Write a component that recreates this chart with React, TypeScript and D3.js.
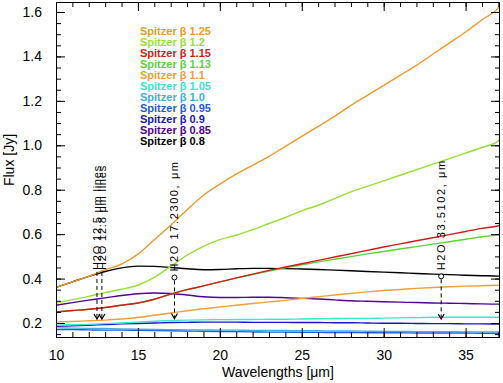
import React, { useEffect, useRef } from 'react';
import * as d3 from 'd3';

const width = 503;
const height = 383;
const margin = { top: 2, right: 3, bottom: 46, left: 56 };

// wavelength grid in microns
const wavelengths = [10, 11, 12, 13, 14, 15, 16, 17, 18, 19, 20, 21, 22, 23, 24, 25, 26, 27, 28, 29, 30, 31, 32, 33, 34, 35, 36, 37, 37.1];

// flux [Jy] per beta
const beta125 = [0.36, 0.385, 0.41, 0.44, 0.465, 0.51, 0.575, 0.64, 0.71, 0.775, 0.825, 0.87, 0.91, 0.95, 0.995, 1.04, 1.085, 1.13, 1.18, 1.225, 1.27, 1.315, 1.36, 1.41, 1.46, 1.51, 1.565, 1.62, 1.63];
const beta120 = [0.29, 0.305, 0.32, 0.337, 0.352, 0.37, 0.405, 0.455, 0.505, 0.545, 0.575, 0.595, 0.62, 0.648, 0.675, 0.705, 0.73, 0.76, 0.79, 0.815, 0.84, 0.865, 0.89, 0.915, 0.94, 0.965, 0.99, 1.02, 1.03];
const beta115 = [0.25, 0.256, 0.262, 0.27, 0.28, 0.29, 0.307, 0.33, 0.35, 0.367, 0.385, 0.403, 0.42, 0.437, 0.452, 0.467, 0.482, 0.497, 0.512, 0.527, 0.542, 0.556, 0.57, 0.584, 0.598, 0.612, 0.626, 0.638, 0.64];
const beta113 = [0.25, 0.256, 0.262, 0.27, 0.28, 0.29, 0.307, 0.33, 0.35, 0.367, 0.385, 0.402, 0.418, 0.434, 0.449, 0.462, 0.475, 0.487, 0.499, 0.511, 0.522, 0.533, 0.544, 0.555, 0.566, 0.577, 0.588, 0.598, 0.6];
const beta110 = [0.205, 0.207, 0.21, 0.213, 0.218, 0.225, 0.235, 0.245, 0.255, 0.264, 0.272, 0.28, 0.288, 0.295, 0.302, 0.31, 0.318, 0.326, 0.333, 0.34, 0.346, 0.351, 0.356, 0.36, 0.363, 0.366, 0.368, 0.37, 0.37];
const beta105 = [0.19, 0.192, 0.194, 0.197, 0.2, 0.204, 0.208, 0.211, 0.213, 0.214, 0.215, 0.216, 0.216, 0.217, 0.217, 0.218, 0.219, 0.22, 0.221, 0.221, 0.222, 0.223, 0.224, 0.226, 0.226, 0.226, 0.226, 0.226, 0.226];
const beta100 = [0.178, 0.177, 0.176, 0.175, 0.173, 0.172, 0.171, 0.17, 0.169, 0.169, 0.168, 0.168, 0.167, 0.167, 0.166, 0.165, 0.165, 0.164, 0.164, 0.163, 0.162, 0.162, 0.161, 0.161, 0.161, 0.16, 0.16, 0.16, 0.16];
const beta095 = [0.17, 0.17, 0.169, 0.168, 0.168, 0.167, 0.166, 0.165, 0.164, 0.163, 0.162, 0.161, 0.16, 0.159, 0.159, 0.158, 0.158, 0.157, 0.157, 0.156, 0.156, 0.156, 0.155, 0.155, 0.155, 0.155, 0.154, 0.154, 0.154];
const beta090 = [0.185, 0.187, 0.19, 0.193, 0.196, 0.198, 0.2, 0.202, 0.203, 0.204, 0.204, 0.204, 0.203, 0.203, 0.203, 0.202, 0.202, 0.201, 0.201, 0.2, 0.199, 0.199, 0.198, 0.197, 0.197, 0.196, 0.196, 0.195, 0.195];
const beta085 = [0.28, 0.292, 0.303, 0.313, 0.324, 0.332, 0.335, 0.333, 0.326, 0.318, 0.315, 0.315, 0.316, 0.316, 0.314, 0.311, 0.308, 0.304, 0.3, 0.298, 0.296, 0.294, 0.292, 0.29, 0.289, 0.288, 0.286, 0.285, 0.285];
const beta080 = [0.36, 0.385, 0.41, 0.432, 0.448, 0.456, 0.455, 0.45, 0.444, 0.44, 0.441, 0.444, 0.446, 0.446, 0.445, 0.443, 0.441, 0.438, 0.435, 0.432, 0.429, 0.426, 0.423, 0.42, 0.418, 0.415, 0.413, 0.411, 0.41];

const seriesLabels = ['Spitzer β 1.25', 'Spitzer β 1.2', 'Spitzer β 1.15', 'Spitzer β 1.13', 'Spitzer β 1.1', 'Spitzer β 1.05', 'Spitzer β 1.0', 'Spitzer β 0.95', 'Spitzer β 0.9', 'Spitzer β 0.85', 'Spitzer β 0.8'];
const seriesValues = [beta125, beta120, beta115, beta113, beta110, beta105, beta100, beta095, beta090, beta085, beta080];
const seriesColors = ['#f09a2a', '#98e034', '#d21c1c', '#5cd238', '#f0a03a', '#3ce6cc', '#3caee6', '#1e5ae0', '#1616c4', '#520094', '#000000'];

// line features
const featureLabels = ['H2O 12.5 μm lines', 'H2O 12.8 μm lines', 'H2O 17.2300, μm', 'H2O 33.5102, μm'];
const featureWavelengths = [12.5, 12.8, 17.23, 33.5102];
const featureTops = [0.43, 0.43, 0.405, 0.41];
const featureTips = [0.218, 0.218, 0.22, 0.218];
const featureCircles = [false, false, true, true];

const yMajor = [0.2, 0.4, 0.6, 0.8, 1.0, 1.2, 1.4, 1.6];
const xMajor = [10, 15, 20, 25, 30, 35];

const font = '"Liberation Sans", Arial, sans-serif';

export default function App() {
  const ref = useRef<SVGSVGElement>(null);

  useEffect(() => {
    const svg = d3.select(ref.current);
    svg.selectAll('*').remove();

    const x = d3.scaleLinear().domain([10, 37.1]).range([margin.left, width - margin.right]);
    const y = d3.scaleLinear().domain([0.137, 1.645]).range([height - margin.bottom, margin.top]);
    const x0 = margin.left;
    const x1 = width - margin.right;
    const y0 = height - margin.bottom;
    const y1 = margin.top;

    svg.append('rect').attr('width', width).attr('height', height).attr('fill', '#fff');

    // spectra
    const clip = svg.append('defs').append('clipPath').attr('id', 'plot');
    clip.append('rect').attr('x', x0).attr('y', y1).attr('width', x1 - x0).attr('height', y0 - y1);

    const line = d3.line<number>()
      .x((_, i) => x(wavelengths[i]))
      .y((d) => y(d))
      .curve(d3.curveMonotoneX);

    const lines = svg.append('g').attr('clip-path', 'url(#plot)');
    seriesValues.slice().reverse().forEach((vals, i) => {
      const idx = seriesValues.length - 1 - i;
      lines.append('path')
        .attr('d', line(vals))
        .attr('fill', 'none')
        .attr('stroke', seriesColors[idx])
        .attr('stroke-width', 1.4);
    });

    // axes, ticks pointing inward on all four sides
    const minorX = d3.range(10, 38, 1);
    const minorY = d3.range(0.15, 1.64, 0.05);

    const addAxis = (axis: any, tx: number, ty: number) =>
      svg.append('g').attr('transform', `translate(${tx},${ty})`).call(axis);

    const styleAxis = (g: any) => {
      g.select('.domain').remove();
      g.selectAll('line').attr('stroke', '#000');
      g.selectAll('text').attr('font-family', font).attr('font-size', 14).attr('fill', '#000');
    };

    styleAxis(addAxis(d3.axisBottom(x).tickValues(xMajor).tickSize(-9).tickPadding(13).tickFormat(d3.format('d')), 0, y0));
    styleAxis(addAxis(d3.axisBottom(x).tickValues(minorX).tickSize(-5).tickFormat(() => ''), 0, y0));
    styleAxis(addAxis(d3.axisTop(x).tickValues(xMajor).tickSize(-9).tickFormat(() => ''), 0, y1));
    styleAxis(addAxis(d3.axisTop(x).tickValues(minorX).tickSize(-5).tickFormat(() => ''), 0, y1));
    styleAxis(addAxis(d3.axisLeft(y).tickValues(yMajor).tickSize(-9).tickPadding(14).tickFormat(d3.format('.1f')), x0, 0));
    styleAxis(addAxis(d3.axisLeft(y).tickValues(minorY).tickSize(-5).tickFormat(() => ''), x0, 0));
    styleAxis(addAxis(d3.axisRight(y).tickValues(yMajor).tickSize(-9).tickFormat(() => ''), x1, 0));
    styleAxis(addAxis(d3.axisRight(y).tickValues(minorY).tickSize(-5).tickFormat(() => ''), x1, 0));

    svg.append('rect')
      .attr('x', x0 + 0.5).attr('y', y1 + 0.5)
      .attr('width', x1 - x0 - 1).attr('height', y0 - y1)
      .attr('fill', 'none').attr('stroke', '#000').attr('stroke-width', 1);

    // axis titles
    svg.append('text')
      .attr('x', (x0 + x1) / 2).attr('y', 377)
      .attr('text-anchor', 'middle')
      .attr('font-family', font).attr('font-size', 14)
      .text('Wavelengths [μm]');
    svg.append('text')
      .attr('transform', `translate(14,${160}) rotate(-90)`)
      .attr('text-anchor', 'middle')
      .attr('font-family', font).attr('font-size', 14)
      .text('Flux [Jy]');

    // legend
    const legend = svg.append('g');
    seriesLabels.forEach((label, i) => {
      legend.append('text')
        .attr('x', 140).attr('y', 35 + i * 11)
        .attr('font-family', font).attr('font-size', 11).attr('font-weight', 'bold')
        .attr('fill', seriesColors[i])
        .text(label);
    });

    // H2O line markers
    const ann = svg.append('g');
    featureLabels.forEach((label, i) => {
      const fx = x(featureWavelengths[i]);
      const top = y(featureTops[i]);
      const tip = y(featureTips[i]);
      const start = featureCircles[i] ? top + 3 : top;
      ann.append('line')
        .attr('x1', fx).attr('x2', fx).attr('y1', start).attr('y2', tip)
        .attr('stroke', '#000').attr('stroke-width', 1).attr('stroke-dasharray', '4,3');
      ann.append('path')
        .attr('d', `M${fx - 3},${tip - 5}L${fx},${tip}L${fx + 3},${tip - 5}`)
        .attr('fill', 'none').attr('stroke', '#000').attr('stroke-width', 1.2);
      if (featureCircles[i]) {
        ann.append('circle')
          .attr('cx', fx).attr('cy', top).attr('r', 2.5)
          .attr('fill', '#fff').attr('stroke', '#000').attr('stroke-width', 1);
      }
      ann.append('text')
        .attr('transform', `translate(${fx + 4},${top - (featureCircles[i] ? 6 : 2)}) rotate(-90)`)
        .attr('font-family', font).attr('font-size', 11)
        .attr('letter-spacing', featureCircles[i] ? 1.6 : 0.8)
        .text(label);
    });
  }, []);

  return (
    <svg
      ref={ref}
      width={width}
      height={height}
      style={{ position: 'absolute', left: 0, top: 0, display: 'block' }}
    />
  );
}
